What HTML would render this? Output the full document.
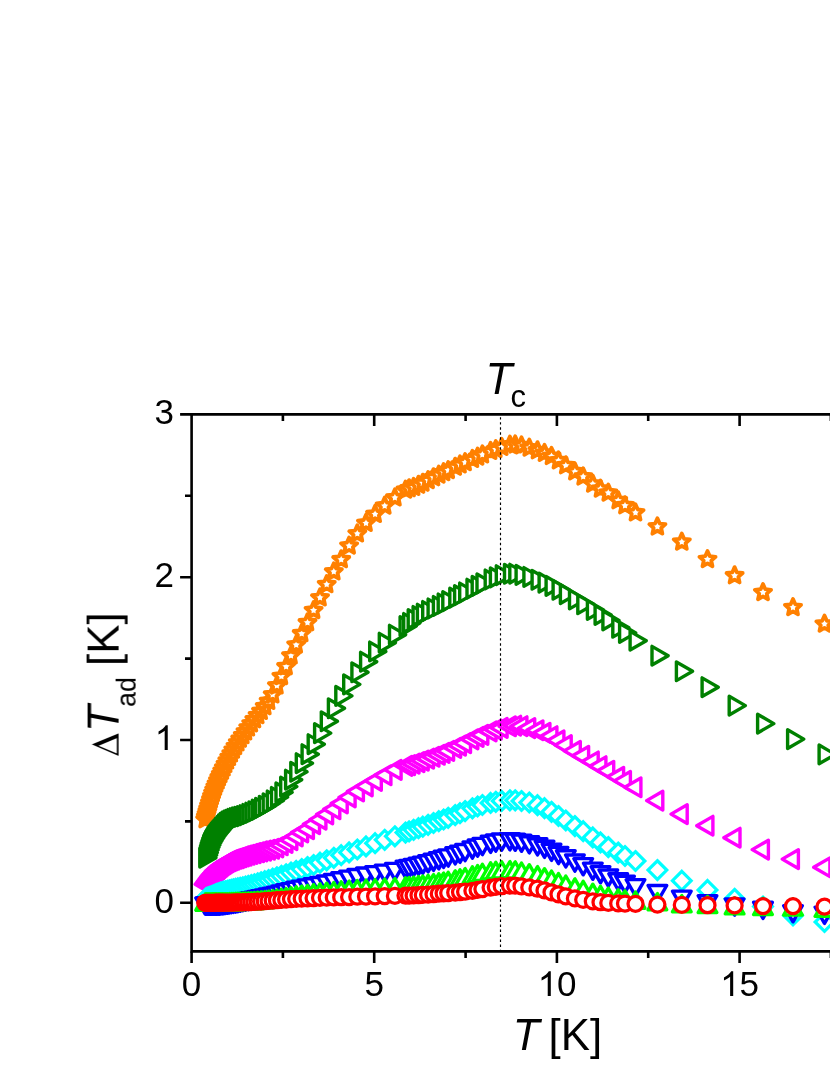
<!DOCTYPE html>
<html><head><meta charset="utf-8"><title>chart</title>
<style>html,body{margin:0;padding:0;background:#fff}body{width:830px;height:1075px;overflow:hidden}svg{display:block}</style>
</head><body>
<svg width="830" height="1075" viewBox="0 0 830 1075">
<rect width="830" height="1075" fill="#fff"/>
<defs>
<path id="m_orange" d="M0.00 -8.50L2.32 -3.20L8.08 -2.63L3.76 1.22L5.00 6.88L0.00 3.95L-5.00 6.88L-3.76 1.22L-8.08 -2.63L-2.32 -3.20Z" fill="#fff" stroke="#ff8000" stroke-width="3.8" stroke-linejoin="round"/>
<path id="m_dkgreen" d="M-5.40 -9.35L-5.40 9.35L10.80 0.00Z" fill="#fff" stroke="#008000" stroke-width="3.4" stroke-linejoin="round"/>
<path id="m_magenta" d="M5.40 -9.35L5.40 9.35L-10.80 0.00Z" fill="#fff" stroke="#ff00ff" stroke-width="3.4" stroke-linejoin="round"/>
<path id="m_cyan" d="M0.00 -9.35L9.35 0.00L0.00 9.35L-9.35 0.00Z" fill="#fff" stroke="#00ffff" stroke-width="3.2" stroke-linejoin="miter"/>
<path id="m_blue" d="M-9.35 -5.40L9.35 -5.40L0.00 10.80Z" fill="#fff" stroke="#0000ff" stroke-width="3.4" stroke-linejoin="round"/>
<path id="m_green" d="M-9.35 5.40L9.35 5.40L0.00 -10.80Z" fill="#fff" stroke="#00ff00" stroke-width="3.4" stroke-linejoin="round"/>
<circle id="m_red" r="7.5" fill="#fff" stroke="#ff0000" stroke-width="3.25"/>
<clipPath id="clip"><rect x="191.6" y="414.4" width="740" height="537.0"/></clipPath>
</defs>
<g>
<g>
<use href="#m_orange" x="205.2" y="819.6"/>
<use href="#m_orange" x="205.9" y="817.0"/>
<use href="#m_orange" x="206.6" y="814.4"/>
<use href="#m_orange" x="207.4" y="811.6"/>
<use href="#m_orange" x="208.2" y="808.8"/>
<use href="#m_orange" x="209.1" y="805.8"/>
<use href="#m_orange" x="210.0" y="802.8"/>
<use href="#m_orange" x="211.0" y="799.6"/>
<use href="#m_orange" x="212.0" y="796.4"/>
<use href="#m_orange" x="213.1" y="793.2"/>
<use href="#m_orange" x="214.2" y="790.1"/>
<use href="#m_orange" x="215.4" y="787.0"/>
<use href="#m_orange" x="216.6" y="783.9"/>
<use href="#m_orange" x="218.0" y="780.7"/>
<use href="#m_orange" x="219.3" y="777.6"/>
<use href="#m_orange" x="220.8" y="774.4"/>
<use href="#m_orange" x="222.3" y="771.1"/>
<use href="#m_orange" x="223.9" y="767.8"/>
<use href="#m_orange" x="225.6" y="764.3"/>
<use href="#m_orange" x="227.4" y="760.8"/>
<use href="#m_orange" x="229.3" y="757.3"/>
<use href="#m_orange" x="231.3" y="753.7"/>
<use href="#m_orange" x="233.3" y="750.0"/>
<use href="#m_orange" x="235.5" y="746.4"/>
<use href="#m_orange" x="237.8" y="742.7"/>
<use href="#m_orange" x="240.2" y="739.1"/>
<use href="#m_orange" x="242.8" y="735.5"/>
<use href="#m_orange" x="245.5" y="731.7"/>
<use href="#m_orange" x="248.3" y="727.8"/>
<use href="#m_orange" x="251.3" y="723.7"/>
<use href="#m_orange" x="254.4" y="719.6"/>
<use href="#m_orange" x="257.7" y="715.5"/>
<use href="#m_orange" x="261.1" y="711.3"/>
<use href="#m_orange" x="264.8" y="706.6"/>
<use href="#m_orange" x="268.6" y="701.3"/>
<use href="#m_orange" x="272.7" y="694.8"/>
<use href="#m_orange" x="276.9" y="685.8"/>
<use href="#m_orange" x="281.4" y="676.4"/>
<use href="#m_orange" x="286.1" y="666.6"/>
<use href="#m_orange" x="291.0" y="655.8"/>
<use href="#m_orange" x="296.2" y="644.9"/>
<use href="#m_orange" x="301.7" y="633.6"/>
<use href="#m_orange" x="307.5" y="622.6"/>
<use href="#m_orange" x="313.6" y="610.4"/>
<use href="#m_orange" x="320.0" y="597.8"/>
<use href="#m_orange" x="326.7" y="584.5"/>
<use href="#m_orange" x="333.8" y="571.8"/>
<use href="#m_orange" x="341.2" y="559.6"/>
<use href="#m_orange" x="349.1" y="545.9"/>
<use href="#m_orange" x="357.3" y="533.8"/>
<use href="#m_orange" x="366.0" y="523.2"/>
<use href="#m_orange" x="375.1" y="514.3"/>
<use href="#m_orange" x="384.7" y="505.9"/>
<use href="#m_orange" x="394.9" y="497.8"/>
<use href="#m_orange" x="405.5" y="489.9"/>
<use href="#m_orange" x="409.1" y="488.6"/>
<use href="#m_orange" x="413.6" y="487.2"/>
<use href="#m_orange" x="418.5" y="485.1"/>
<use href="#m_orange" x="422.8" y="483.1"/>
<use href="#m_orange" x="428.1" y="480.4"/>
<use href="#m_orange" x="433.5" y="477.6"/>
<use href="#m_orange" x="438.8" y="474.9"/>
<use href="#m_orange" x="443.6" y="472.5"/>
<use href="#m_orange" x="448.2" y="470.4"/>
<use href="#m_orange" x="455.2" y="467.1"/>
<use href="#m_orange" x="460.0" y="464.8"/>
<use href="#m_orange" x="465.1" y="462.5"/>
<use href="#m_orange" x="472.4" y="459.2"/>
<use href="#m_orange" x="477.6" y="456.9"/>
<use href="#m_orange" x="482.4" y="454.7"/>
<use href="#m_orange" x="490.6" y="451.3"/>
<use href="#m_orange" x="495.8" y="449.4"/>
<use href="#m_orange" x="501.7" y="447.2"/>
<use href="#m_orange" x="509.9" y="444.9"/>
<use href="#m_orange" x="515.2" y="444.8"/>
<use href="#m_orange" x="521.5" y="445.7"/>
<use href="#m_orange" x="529.3" y="447.9"/>
<use href="#m_orange" x="537.5" y="450.6"/>
<use href="#m_orange" x="544.5" y="453.2"/>
<use href="#m_orange" x="551.5" y="456.3"/>
<use href="#m_orange" x="558.5" y="460.7"/>
<use href="#m_orange" x="565.8" y="465.6"/>
<use href="#m_orange" x="574.9" y="471.7"/>
<use href="#m_orange" x="583.2" y="476.8"/>
<use href="#m_orange" x="592.8" y="484.0"/>
<use href="#m_orange" x="600.5" y="489.0"/>
<use href="#m_orange" x="608.3" y="492.9"/>
<use href="#m_orange" x="618.2" y="500.6"/>
<use href="#m_orange" x="625.0" y="505.6"/>
<use href="#m_orange" x="635.5" y="512.7"/>
<use href="#m_orange" x="657.4" y="526.8"/>
<use href="#m_orange" x="681.8" y="542.0"/>
<use href="#m_orange" x="707.5" y="559.4"/>
<use href="#m_orange" x="734.6" y="575.6"/>
<use href="#m_orange" x="763.0" y="592.4"/>
<use href="#m_orange" x="793.0" y="607.5"/>
<use href="#m_orange" x="824.5" y="624.0"/>
</g>
<g>
<use href="#m_dkgreen" x="205.2" y="857.7"/>
<use href="#m_dkgreen" x="205.9" y="855.1"/>
<use href="#m_dkgreen" x="206.6" y="852.5"/>
<use href="#m_dkgreen" x="207.4" y="849.9"/>
<use href="#m_dkgreen" x="208.2" y="847.4"/>
<use href="#m_dkgreen" x="209.1" y="845.0"/>
<use href="#m_dkgreen" x="210.0" y="842.9"/>
<use href="#m_dkgreen" x="211.0" y="841.0"/>
<use href="#m_dkgreen" x="212.0" y="839.2"/>
<use href="#m_dkgreen" x="213.1" y="837.5"/>
<use href="#m_dkgreen" x="214.2" y="835.8"/>
<use href="#m_dkgreen" x="215.4" y="834.3"/>
<use href="#m_dkgreen" x="216.6" y="832.7"/>
<use href="#m_dkgreen" x="218.0" y="831.2"/>
<use href="#m_dkgreen" x="219.3" y="829.6"/>
<use href="#m_dkgreen" x="220.8" y="827.9"/>
<use href="#m_dkgreen" x="222.3" y="826.1"/>
<use href="#m_dkgreen" x="223.9" y="824.4"/>
<use href="#m_dkgreen" x="225.6" y="822.9"/>
<use href="#m_dkgreen" x="227.4" y="821.6"/>
<use href="#m_dkgreen" x="229.3" y="820.6"/>
<use href="#m_dkgreen" x="231.3" y="819.8"/>
<use href="#m_dkgreen" x="233.3" y="819.0"/>
<use href="#m_dkgreen" x="235.5" y="818.2"/>
<use href="#m_dkgreen" x="237.8" y="817.5"/>
<use href="#m_dkgreen" x="240.2" y="816.8"/>
<use href="#m_dkgreen" x="242.8" y="816.1"/>
<use href="#m_dkgreen" x="245.5" y="815.2"/>
<use href="#m_dkgreen" x="248.3" y="814.0"/>
<use href="#m_dkgreen" x="251.3" y="812.7"/>
<use href="#m_dkgreen" x="254.4" y="811.3"/>
<use href="#m_dkgreen" x="257.7" y="809.6"/>
<use href="#m_dkgreen" x="261.1" y="807.8"/>
<use href="#m_dkgreen" x="264.8" y="805.8"/>
<use href="#m_dkgreen" x="268.6" y="803.4"/>
<use href="#m_dkgreen" x="272.7" y="800.5"/>
<use href="#m_dkgreen" x="276.9" y="797.0"/>
<use href="#m_dkgreen" x="281.4" y="792.4"/>
<use href="#m_dkgreen" x="286.1" y="786.6"/>
<use href="#m_dkgreen" x="291.0" y="779.7"/>
<use href="#m_dkgreen" x="296.2" y="771.8"/>
<use href="#m_dkgreen" x="301.7" y="763.2"/>
<use href="#m_dkgreen" x="307.5" y="754.2"/>
<use href="#m_dkgreen" x="313.6" y="744.2"/>
<use href="#m_dkgreen" x="320.0" y="733.1"/>
<use href="#m_dkgreen" x="326.7" y="721.3"/>
<use href="#m_dkgreen" x="333.8" y="708.3"/>
<use href="#m_dkgreen" x="341.2" y="695.9"/>
<use href="#m_dkgreen" x="349.1" y="684.4"/>
<use href="#m_dkgreen" x="357.3" y="672.3"/>
<use href="#m_dkgreen" x="366.0" y="661.7"/>
<use href="#m_dkgreen" x="375.1" y="651.5"/>
<use href="#m_dkgreen" x="384.7" y="642.7"/>
<use href="#m_dkgreen" x="394.9" y="634.7"/>
<use href="#m_dkgreen" x="405.5" y="626.1"/>
<use href="#m_dkgreen" x="409.1" y="623.0"/>
<use href="#m_dkgreen" x="413.6" y="619.1"/>
<use href="#m_dkgreen" x="418.5" y="616.0"/>
<use href="#m_dkgreen" x="422.8" y="613.7"/>
<use href="#m_dkgreen" x="428.1" y="611.0"/>
<use href="#m_dkgreen" x="433.5" y="608.5"/>
<use href="#m_dkgreen" x="438.8" y="606.0"/>
<use href="#m_dkgreen" x="443.6" y="603.5"/>
<use href="#m_dkgreen" x="448.2" y="601.1"/>
<use href="#m_dkgreen" x="455.2" y="597.6"/>
<use href="#m_dkgreen" x="460.0" y="595.1"/>
<use href="#m_dkgreen" x="465.1" y="592.5"/>
<use href="#m_dkgreen" x="472.4" y="588.7"/>
<use href="#m_dkgreen" x="477.6" y="585.9"/>
<use href="#m_dkgreen" x="482.4" y="583.4"/>
<use href="#m_dkgreen" x="490.6" y="579.5"/>
<use href="#m_dkgreen" x="495.8" y="577.4"/>
<use href="#m_dkgreen" x="501.7" y="575.2"/>
<use href="#m_dkgreen" x="509.9" y="573.8"/>
<use href="#m_dkgreen" x="515.2" y="573.7"/>
<use href="#m_dkgreen" x="521.5" y="574.9"/>
<use href="#m_dkgreen" x="529.3" y="577.0"/>
<use href="#m_dkgreen" x="537.5" y="579.8"/>
<use href="#m_dkgreen" x="544.5" y="582.6"/>
<use href="#m_dkgreen" x="551.5" y="585.9"/>
<use href="#m_dkgreen" x="558.5" y="589.8"/>
<use href="#m_dkgreen" x="565.8" y="594.1"/>
<use href="#m_dkgreen" x="574.9" y="599.5"/>
<use href="#m_dkgreen" x="583.2" y="604.3"/>
<use href="#m_dkgreen" x="592.8" y="610.0"/>
<use href="#m_dkgreen" x="600.5" y="615.0"/>
<use href="#m_dkgreen" x="608.3" y="620.4"/>
<use href="#m_dkgreen" x="618.2" y="627.8"/>
<use href="#m_dkgreen" x="625.0" y="632.9"/>
<use href="#m_dkgreen" x="635.5" y="640.7"/>
<use href="#m_dkgreen" x="657.4" y="655.7"/>
<use href="#m_dkgreen" x="681.8" y="671.3"/>
<use href="#m_dkgreen" x="707.5" y="687.2"/>
<use href="#m_dkgreen" x="734.6" y="705.6"/>
<use href="#m_dkgreen" x="763.0" y="723.6"/>
<use href="#m_dkgreen" x="793.0" y="739.1"/>
<use href="#m_dkgreen" x="824.5" y="754.4"/>
</g>
<g>
<use href="#m_magenta" x="205.9" y="884.4"/>
<use href="#m_magenta" x="206.7" y="883.4"/>
<use href="#m_magenta" x="207.5" y="882.3"/>
<use href="#m_magenta" x="208.3" y="881.2"/>
<use href="#m_magenta" x="209.2" y="879.9"/>
<use href="#m_magenta" x="210.1" y="878.6"/>
<use href="#m_magenta" x="211.1" y="877.3"/>
<use href="#m_magenta" x="212.1" y="876.0"/>
<use href="#m_magenta" x="213.2" y="874.7"/>
<use href="#m_magenta" x="214.3" y="873.4"/>
<use href="#m_magenta" x="215.5" y="872.0"/>
<use href="#m_magenta" x="216.7" y="870.7"/>
<use href="#m_magenta" x="218.1" y="869.4"/>
<use href="#m_magenta" x="219.4" y="868.1"/>
<use href="#m_magenta" x="220.9" y="866.9"/>
<use href="#m_magenta" x="222.4" y="865.7"/>
<use href="#m_magenta" x="224.1" y="864.5"/>
<use href="#m_magenta" x="225.8" y="863.4"/>
<use href="#m_magenta" x="227.5" y="862.3"/>
<use href="#m_magenta" x="229.4" y="861.3"/>
<use href="#m_magenta" x="231.4" y="860.4"/>
<use href="#m_magenta" x="233.5" y="859.6"/>
<use href="#m_magenta" x="235.7" y="858.8"/>
<use href="#m_magenta" x="238.0" y="858.1"/>
<use href="#m_magenta" x="240.4" y="857.3"/>
<use href="#m_magenta" x="243.0" y="856.4"/>
<use href="#m_magenta" x="245.7" y="855.6"/>
<use href="#m_magenta" x="248.5" y="854.8"/>
<use href="#m_magenta" x="251.5" y="854.0"/>
<use href="#m_magenta" x="254.7" y="853.1"/>
<use href="#m_magenta" x="258.0" y="852.3"/>
<use href="#m_magenta" x="261.4" y="851.4"/>
<use href="#m_magenta" x="265.1" y="850.6"/>
<use href="#m_magenta" x="268.9" y="849.8"/>
<use href="#m_magenta" x="273.0" y="848.8"/>
<use href="#m_magenta" x="277.3" y="847.4"/>
<use href="#m_magenta" x="281.7" y="845.3"/>
<use href="#m_magenta" x="286.5" y="842.9"/>
<use href="#m_magenta" x="291.4" y="840.1"/>
<use href="#m_magenta" x="296.7" y="836.4"/>
<use href="#m_magenta" x="302.2" y="832.5"/>
<use href="#m_magenta" x="308.0" y="829.1"/>
<use href="#m_magenta" x="314.1" y="824.2"/>
<use href="#m_magenta" x="320.5" y="819.6"/>
<use href="#m_magenta" x="327.2" y="814.5"/>
<use href="#m_magenta" x="334.4" y="809.3"/>
<use href="#m_magenta" x="341.8" y="803.5"/>
<use href="#m_magenta" x="349.7" y="797.4"/>
<use href="#m_magenta" x="358.0" y="791.5"/>
<use href="#m_magenta" x="366.7" y="786.4"/>
<use href="#m_magenta" x="375.9" y="780.9"/>
<use href="#m_magenta" x="385.5" y="775.3"/>
<use href="#m_magenta" x="395.7" y="769.9"/>
<use href="#m_magenta" x="406.4" y="765.9"/>
<use href="#m_magenta" x="409.1" y="765.2"/>
<use href="#m_magenta" x="413.6" y="763.7"/>
<use href="#m_magenta" x="418.5" y="762.1"/>
<use href="#m_magenta" x="422.8" y="760.6"/>
<use href="#m_magenta" x="428.1" y="758.7"/>
<use href="#m_magenta" x="433.5" y="756.8"/>
<use href="#m_magenta" x="438.8" y="754.8"/>
<use href="#m_magenta" x="443.6" y="752.9"/>
<use href="#m_magenta" x="448.2" y="751.0"/>
<use href="#m_magenta" x="455.2" y="747.9"/>
<use href="#m_magenta" x="460.0" y="745.6"/>
<use href="#m_magenta" x="465.1" y="743.1"/>
<use href="#m_magenta" x="472.4" y="739.4"/>
<use href="#m_magenta" x="477.6" y="737.0"/>
<use href="#m_magenta" x="482.4" y="734.9"/>
<use href="#m_magenta" x="490.6" y="731.5"/>
<use href="#m_magenta" x="495.8" y="729.6"/>
<use href="#m_magenta" x="501.7" y="727.9"/>
<use href="#m_magenta" x="509.9" y="726.3"/>
<use href="#m_magenta" x="515.2" y="725.7"/>
<use href="#m_magenta" x="521.5" y="726.2"/>
<use href="#m_magenta" x="529.3" y="728.1"/>
<use href="#m_magenta" x="537.5" y="730.3"/>
<use href="#m_magenta" x="544.5" y="732.8"/>
<use href="#m_magenta" x="551.5" y="736.2"/>
<use href="#m_magenta" x="558.5" y="740.4"/>
<use href="#m_magenta" x="565.8" y="745.1"/>
<use href="#m_magenta" x="574.9" y="750.9"/>
<use href="#m_magenta" x="583.2" y="755.8"/>
<use href="#m_magenta" x="592.8" y="761.5"/>
<use href="#m_magenta" x="600.5" y="766.2"/>
<use href="#m_magenta" x="608.3" y="770.8"/>
<use href="#m_magenta" x="618.2" y="776.8"/>
<use href="#m_magenta" x="625.0" y="780.9"/>
<use href="#m_magenta" x="635.5" y="787.3"/>
<use href="#m_magenta" x="657.4" y="800.6"/>
<use href="#m_magenta" x="681.8" y="814.1"/>
<use href="#m_magenta" x="707.5" y="825.7"/>
<use href="#m_magenta" x="734.6" y="837.7"/>
<use href="#m_magenta" x="763.0" y="849.6"/>
<use href="#m_magenta" x="793.0" y="859.1"/>
<use href="#m_magenta" x="824.5" y="867.3"/>
</g>
<g>
<use href="#m_cyan" x="205.9" y="898.4"/>
<use href="#m_cyan" x="206.6" y="898.1"/>
<use href="#m_cyan" x="207.4" y="897.8"/>
<use href="#m_cyan" x="208.2" y="897.5"/>
<use href="#m_cyan" x="209.1" y="897.2"/>
<use href="#m_cyan" x="210.0" y="896.9"/>
<use href="#m_cyan" x="211.0" y="896.6"/>
<use href="#m_cyan" x="212.0" y="896.2"/>
<use href="#m_cyan" x="213.1" y="895.7"/>
<use href="#m_cyan" x="214.2" y="895.2"/>
<use href="#m_cyan" x="215.4" y="894.7"/>
<use href="#m_cyan" x="216.6" y="894.1"/>
<use href="#m_cyan" x="218.0" y="893.6"/>
<use href="#m_cyan" x="219.3" y="893.1"/>
<use href="#m_cyan" x="220.8" y="892.6"/>
<use href="#m_cyan" x="222.3" y="892.2"/>
<use href="#m_cyan" x="223.9" y="891.7"/>
<use href="#m_cyan" x="225.6" y="891.3"/>
<use href="#m_cyan" x="227.4" y="890.8"/>
<use href="#m_cyan" x="229.3" y="890.3"/>
<use href="#m_cyan" x="231.3" y="889.8"/>
<use href="#m_cyan" x="233.3" y="889.3"/>
<use href="#m_cyan" x="235.5" y="888.8"/>
<use href="#m_cyan" x="237.8" y="888.3"/>
<use href="#m_cyan" x="240.2" y="887.8"/>
<use href="#m_cyan" x="242.8" y="887.3"/>
<use href="#m_cyan" x="245.5" y="886.6"/>
<use href="#m_cyan" x="248.3" y="885.9"/>
<use href="#m_cyan" x="251.3" y="885.1"/>
<use href="#m_cyan" x="254.4" y="884.3"/>
<use href="#m_cyan" x="257.7" y="883.3"/>
<use href="#m_cyan" x="261.1" y="882.3"/>
<use href="#m_cyan" x="264.8" y="881.2"/>
<use href="#m_cyan" x="268.6" y="880.0"/>
<use href="#m_cyan" x="272.7" y="878.7"/>
<use href="#m_cyan" x="276.9" y="877.3"/>
<use href="#m_cyan" x="281.4" y="875.8"/>
<use href="#m_cyan" x="286.1" y="874.3"/>
<use href="#m_cyan" x="291.0" y="872.6"/>
<use href="#m_cyan" x="296.2" y="870.9"/>
<use href="#m_cyan" x="301.7" y="869.1"/>
<use href="#m_cyan" x="307.5" y="867.1"/>
<use href="#m_cyan" x="313.6" y="865.0"/>
<use href="#m_cyan" x="320.0" y="862.7"/>
<use href="#m_cyan" x="326.7" y="860.3"/>
<use href="#m_cyan" x="333.8" y="857.8"/>
<use href="#m_cyan" x="341.2" y="855.2"/>
<use href="#m_cyan" x="349.1" y="852.4"/>
<use href="#m_cyan" x="357.3" y="849.5"/>
<use href="#m_cyan" x="366.0" y="846.4"/>
<use href="#m_cyan" x="375.1" y="843.2"/>
<use href="#m_cyan" x="384.7" y="839.8"/>
<use href="#m_cyan" x="394.9" y="836.3"/>
<use href="#m_cyan" x="405.5" y="832.6"/>
<use href="#m_cyan" x="409.1" y="831.4"/>
<use href="#m_cyan" x="413.6" y="829.8"/>
<use href="#m_cyan" x="418.5" y="828.2"/>
<use href="#m_cyan" x="422.8" y="826.7"/>
<use href="#m_cyan" x="428.1" y="824.8"/>
<use href="#m_cyan" x="433.5" y="823.0"/>
<use href="#m_cyan" x="438.8" y="821.2"/>
<use href="#m_cyan" x="443.6" y="819.5"/>
<use href="#m_cyan" x="448.2" y="817.8"/>
<use href="#m_cyan" x="455.2" y="815.1"/>
<use href="#m_cyan" x="460.0" y="813.2"/>
<use href="#m_cyan" x="465.1" y="811.1"/>
<use href="#m_cyan" x="472.4" y="808.3"/>
<use href="#m_cyan" x="477.6" y="806.5"/>
<use href="#m_cyan" x="482.4" y="805.0"/>
<use href="#m_cyan" x="490.6" y="802.9"/>
<use href="#m_cyan" x="495.8" y="801.8"/>
<use href="#m_cyan" x="501.7" y="800.9"/>
<use href="#m_cyan" x="509.9" y="800.3"/>
<use href="#m_cyan" x="515.2" y="800.3"/>
<use href="#m_cyan" x="521.5" y="801.0"/>
<use href="#m_cyan" x="529.3" y="802.5"/>
<use href="#m_cyan" x="537.5" y="805.2"/>
<use href="#m_cyan" x="544.5" y="808.2"/>
<use href="#m_cyan" x="551.5" y="811.8"/>
<use href="#m_cyan" x="558.5" y="816.0"/>
<use href="#m_cyan" x="565.8" y="820.5"/>
<use href="#m_cyan" x="574.9" y="826.1"/>
<use href="#m_cyan" x="583.2" y="831.2"/>
<use href="#m_cyan" x="592.8" y="837.4"/>
<use href="#m_cyan" x="600.5" y="842.4"/>
<use href="#m_cyan" x="608.3" y="847.1"/>
<use href="#m_cyan" x="618.2" y="852.6"/>
<use href="#m_cyan" x="625.0" y="856.0"/>
<use href="#m_cyan" x="635.5" y="861.0"/>
<use href="#m_cyan" x="657.4" y="870.1"/>
<use href="#m_cyan" x="681.8" y="880.7"/>
<use href="#m_cyan" x="707.5" y="889.9"/>
<use href="#m_cyan" x="734.6" y="898.8"/>
<use href="#m_cyan" x="763.0" y="906.6"/>
<use href="#m_cyan" x="793.0" y="915.4"/>
<use href="#m_cyan" x="824.5" y="922.0"/>
</g>
<g>
<use href="#m_blue" x="205.2" y="903.3"/>
<use href="#m_blue" x="205.9" y="903.3"/>
<use href="#m_blue" x="206.6" y="903.3"/>
<use href="#m_blue" x="207.4" y="903.3"/>
<use href="#m_blue" x="208.2" y="903.3"/>
<use href="#m_blue" x="209.1" y="903.4"/>
<use href="#m_blue" x="210.0" y="903.4"/>
<use href="#m_blue" x="211.0" y="903.4"/>
<use href="#m_blue" x="212.0" y="903.4"/>
<use href="#m_blue" x="213.1" y="903.4"/>
<use href="#m_blue" x="214.2" y="903.4"/>
<use href="#m_blue" x="215.4" y="903.4"/>
<use href="#m_blue" x="216.6" y="903.4"/>
<use href="#m_blue" x="218.0" y="903.4"/>
<use href="#m_blue" x="219.3" y="903.4"/>
<use href="#m_blue" x="220.8" y="903.2"/>
<use href="#m_blue" x="222.3" y="903.1"/>
<use href="#m_blue" x="223.9" y="902.9"/>
<use href="#m_blue" x="225.6" y="902.7"/>
<use href="#m_blue" x="227.4" y="902.5"/>
<use href="#m_blue" x="229.3" y="902.2"/>
<use href="#m_blue" x="231.3" y="901.9"/>
<use href="#m_blue" x="233.3" y="901.6"/>
<use href="#m_blue" x="235.5" y="901.3"/>
<use href="#m_blue" x="237.8" y="900.9"/>
<use href="#m_blue" x="240.2" y="900.5"/>
<use href="#m_blue" x="242.8" y="899.9"/>
<use href="#m_blue" x="245.5" y="899.4"/>
<use href="#m_blue" x="248.3" y="898.8"/>
<use href="#m_blue" x="251.3" y="898.2"/>
<use href="#m_blue" x="254.4" y="897.5"/>
<use href="#m_blue" x="257.7" y="896.9"/>
<use href="#m_blue" x="261.1" y="896.1"/>
<use href="#m_blue" x="264.8" y="895.3"/>
<use href="#m_blue" x="268.6" y="894.4"/>
<use href="#m_blue" x="272.7" y="893.5"/>
<use href="#m_blue" x="276.9" y="892.5"/>
<use href="#m_blue" x="281.4" y="891.4"/>
<use href="#m_blue" x="286.1" y="890.2"/>
<use href="#m_blue" x="291.0" y="889.0"/>
<use href="#m_blue" x="296.2" y="887.7"/>
<use href="#m_blue" x="301.7" y="886.5"/>
<use href="#m_blue" x="307.5" y="885.3"/>
<use href="#m_blue" x="313.6" y="884.2"/>
<use href="#m_blue" x="320.0" y="882.9"/>
<use href="#m_blue" x="326.7" y="881.4"/>
<use href="#m_blue" x="333.8" y="879.9"/>
<use href="#m_blue" x="341.2" y="878.2"/>
<use href="#m_blue" x="349.1" y="876.5"/>
<use href="#m_blue" x="357.3" y="874.9"/>
<use href="#m_blue" x="366.0" y="873.4"/>
<use href="#m_blue" x="375.1" y="872.0"/>
<use href="#m_blue" x="384.7" y="870.5"/>
<use href="#m_blue" x="394.9" y="868.8"/>
<use href="#m_blue" x="405.5" y="866.7"/>
<use href="#m_blue" x="409.1" y="865.9"/>
<use href="#m_blue" x="413.6" y="864.9"/>
<use href="#m_blue" x="418.5" y="863.7"/>
<use href="#m_blue" x="422.8" y="862.5"/>
<use href="#m_blue" x="428.1" y="861.1"/>
<use href="#m_blue" x="433.5" y="859.6"/>
<use href="#m_blue" x="438.8" y="858.1"/>
<use href="#m_blue" x="443.6" y="856.7"/>
<use href="#m_blue" x="448.2" y="855.3"/>
<use href="#m_blue" x="455.2" y="853.2"/>
<use href="#m_blue" x="460.0" y="851.6"/>
<use href="#m_blue" x="465.1" y="849.9"/>
<use href="#m_blue" x="472.4" y="847.4"/>
<use href="#m_blue" x="477.6" y="845.4"/>
<use href="#m_blue" x="482.4" y="843.8"/>
<use href="#m_blue" x="490.6" y="841.6"/>
<use href="#m_blue" x="495.8" y="840.4"/>
<use href="#m_blue" x="501.7" y="839.4"/>
<use href="#m_blue" x="509.9" y="839.1"/>
<use href="#m_blue" x="515.2" y="839.5"/>
<use href="#m_blue" x="521.5" y="840.5"/>
<use href="#m_blue" x="529.3" y="842.1"/>
<use href="#m_blue" x="537.5" y="844.2"/>
<use href="#m_blue" x="544.5" y="846.6"/>
<use href="#m_blue" x="551.5" y="849.6"/>
<use href="#m_blue" x="558.5" y="852.8"/>
<use href="#m_blue" x="565.8" y="856.2"/>
<use href="#m_blue" x="574.9" y="860.4"/>
<use href="#m_blue" x="583.2" y="864.0"/>
<use href="#m_blue" x="592.8" y="868.5"/>
<use href="#m_blue" x="600.5" y="872.0"/>
<use href="#m_blue" x="608.3" y="875.4"/>
<use href="#m_blue" x="618.2" y="879.2"/>
<use href="#m_blue" x="625.0" y="881.6"/>
<use href="#m_blue" x="635.5" y="885.0"/>
<use href="#m_blue" x="657.4" y="890.9"/>
<use href="#m_blue" x="681.8" y="896.5"/>
<use href="#m_blue" x="707.5" y="901.1"/>
<use href="#m_blue" x="734.6" y="904.3"/>
<use href="#m_blue" x="763.0" y="907.7"/>
<use href="#m_blue" x="793.0" y="911.0"/>
<use href="#m_blue" x="824.5" y="912.6"/>
</g>
<g>
<use href="#m_green" x="205.2" y="904.8"/>
<use href="#m_green" x="205.9" y="904.8"/>
<use href="#m_green" x="206.6" y="904.8"/>
<use href="#m_green" x="207.4" y="904.8"/>
<use href="#m_green" x="208.2" y="904.8"/>
<use href="#m_green" x="209.1" y="904.8"/>
<use href="#m_green" x="210.0" y="904.8"/>
<use href="#m_green" x="211.0" y="904.8"/>
<use href="#m_green" x="212.0" y="904.7"/>
<use href="#m_green" x="213.1" y="904.7"/>
<use href="#m_green" x="214.2" y="904.7"/>
<use href="#m_green" x="215.4" y="904.7"/>
<use href="#m_green" x="216.6" y="904.7"/>
<use href="#m_green" x="218.0" y="904.7"/>
<use href="#m_green" x="219.3" y="904.7"/>
<use href="#m_green" x="220.8" y="904.6"/>
<use href="#m_green" x="222.3" y="904.6"/>
<use href="#m_green" x="223.9" y="904.6"/>
<use href="#m_green" x="225.6" y="904.5"/>
<use href="#m_green" x="227.4" y="904.5"/>
<use href="#m_green" x="229.3" y="904.4"/>
<use href="#m_green" x="231.3" y="904.4"/>
<use href="#m_green" x="233.3" y="904.3"/>
<use href="#m_green" x="235.5" y="904.2"/>
<use href="#m_green" x="237.8" y="904.1"/>
<use href="#m_green" x="240.2" y="904.0"/>
<use href="#m_green" x="242.8" y="903.9"/>
<use href="#m_green" x="245.5" y="903.8"/>
<use href="#m_green" x="248.3" y="903.7"/>
<use href="#m_green" x="251.3" y="903.5"/>
<use href="#m_green" x="254.4" y="903.3"/>
<use href="#m_green" x="257.7" y="903.0"/>
<use href="#m_green" x="261.1" y="902.7"/>
<use href="#m_green" x="264.8" y="902.3"/>
<use href="#m_green" x="268.6" y="901.9"/>
<use href="#m_green" x="272.7" y="901.4"/>
<use href="#m_green" x="276.9" y="900.9"/>
<use href="#m_green" x="281.4" y="900.2"/>
<use href="#m_green" x="286.1" y="899.4"/>
<use href="#m_green" x="291.0" y="898.5"/>
<use href="#m_green" x="296.2" y="897.6"/>
<use href="#m_green" x="301.7" y="896.9"/>
<use href="#m_green" x="307.5" y="896.2"/>
<use href="#m_green" x="313.6" y="895.4"/>
<use href="#m_green" x="320.0" y="894.7"/>
<use href="#m_green" x="326.7" y="894.0"/>
<use href="#m_green" x="333.8" y="893.3"/>
<use href="#m_green" x="341.2" y="892.6"/>
<use href="#m_green" x="349.1" y="891.9"/>
<use href="#m_green" x="357.3" y="891.3"/>
<use href="#m_green" x="366.0" y="890.8"/>
<use href="#m_green" x="375.1" y="890.3"/>
<use href="#m_green" x="384.7" y="889.9"/>
<use href="#m_green" x="394.9" y="889.4"/>
<use href="#m_green" x="405.5" y="888.6"/>
<use href="#m_green" x="409.1" y="888.3"/>
<use href="#m_green" x="413.6" y="887.9"/>
<use href="#m_green" x="418.5" y="887.3"/>
<use href="#m_green" x="422.8" y="886.8"/>
<use href="#m_green" x="428.1" y="886.1"/>
<use href="#m_green" x="433.5" y="885.4"/>
<use href="#m_green" x="438.8" y="884.6"/>
<use href="#m_green" x="443.6" y="883.9"/>
<use href="#m_green" x="448.2" y="883.1"/>
<use href="#m_green" x="455.2" y="881.7"/>
<use href="#m_green" x="460.0" y="880.6"/>
<use href="#m_green" x="465.1" y="879.4"/>
<use href="#m_green" x="472.4" y="877.6"/>
<use href="#m_green" x="477.6" y="876.3"/>
<use href="#m_green" x="482.4" y="875.1"/>
<use href="#m_green" x="490.6" y="873.6"/>
<use href="#m_green" x="495.8" y="873.1"/>
<use href="#m_green" x="501.7" y="872.6"/>
<use href="#m_green" x="509.9" y="872.4"/>
<use href="#m_green" x="515.2" y="872.7"/>
<use href="#m_green" x="521.5" y="873.8"/>
<use href="#m_green" x="529.3" y="875.5"/>
<use href="#m_green" x="537.5" y="877.4"/>
<use href="#m_green" x="544.5" y="879.5"/>
<use href="#m_green" x="551.5" y="881.8"/>
<use href="#m_green" x="558.5" y="884.3"/>
<use href="#m_green" x="565.8" y="886.8"/>
<use href="#m_green" x="574.9" y="889.7"/>
<use href="#m_green" x="583.2" y="892.1"/>
<use href="#m_green" x="592.8" y="895.0"/>
<use href="#m_green" x="600.5" y="897.1"/>
<use href="#m_green" x="608.3" y="898.9"/>
<use href="#m_green" x="618.2" y="900.6"/>
<use href="#m_green" x="625.0" y="901.6"/>
<use href="#m_green" x="635.5" y="902.8"/>
<use href="#m_green" x="657.4" y="904.4"/>
<use href="#m_green" x="681.8" y="906.4"/>
<use href="#m_green" x="707.5" y="907.2"/>
<use href="#m_green" x="734.6" y="908.5"/>
<use href="#m_green" x="763.0" y="909.2"/>
<use href="#m_green" x="793.0" y="909.6"/>
<use href="#m_green" x="824.5" y="910.9"/>
</g>
<g>
<use href="#m_red" x="205.2" y="902.8"/>
<use href="#m_red" x="205.9" y="902.8"/>
<use href="#m_red" x="206.6" y="902.8"/>
<use href="#m_red" x="207.4" y="902.8"/>
<use href="#m_red" x="208.2" y="902.8"/>
<use href="#m_red" x="209.1" y="902.8"/>
<use href="#m_red" x="210.0" y="902.8"/>
<use href="#m_red" x="211.0" y="902.8"/>
<use href="#m_red" x="212.0" y="902.8"/>
<use href="#m_red" x="213.1" y="902.8"/>
<use href="#m_red" x="214.2" y="902.8"/>
<use href="#m_red" x="215.4" y="902.7"/>
<use href="#m_red" x="216.6" y="902.7"/>
<use href="#m_red" x="218.0" y="902.7"/>
<use href="#m_red" x="219.3" y="902.7"/>
<use href="#m_red" x="220.8" y="902.7"/>
<use href="#m_red" x="222.3" y="902.7"/>
<use href="#m_red" x="223.9" y="902.6"/>
<use href="#m_red" x="225.6" y="902.6"/>
<use href="#m_red" x="227.4" y="902.6"/>
<use href="#m_red" x="229.3" y="902.6"/>
<use href="#m_red" x="231.3" y="902.5"/>
<use href="#m_red" x="233.3" y="902.5"/>
<use href="#m_red" x="235.5" y="902.4"/>
<use href="#m_red" x="237.8" y="902.4"/>
<use href="#m_red" x="240.2" y="902.3"/>
<use href="#m_red" x="242.8" y="902.3"/>
<use href="#m_red" x="245.5" y="902.2"/>
<use href="#m_red" x="248.3" y="902.1"/>
<use href="#m_red" x="251.3" y="902.0"/>
<use href="#m_red" x="254.4" y="901.9"/>
<use href="#m_red" x="257.7" y="901.7"/>
<use href="#m_red" x="261.1" y="901.5"/>
<use href="#m_red" x="264.8" y="901.2"/>
<use href="#m_red" x="268.6" y="900.9"/>
<use href="#m_red" x="272.7" y="900.6"/>
<use href="#m_red" x="276.9" y="900.2"/>
<use href="#m_red" x="281.4" y="899.9"/>
<use href="#m_red" x="286.1" y="899.5"/>
<use href="#m_red" x="291.0" y="899.1"/>
<use href="#m_red" x="296.2" y="898.8"/>
<use href="#m_red" x="301.7" y="898.5"/>
<use href="#m_red" x="307.5" y="898.3"/>
<use href="#m_red" x="313.6" y="898.0"/>
<use href="#m_red" x="320.0" y="897.8"/>
<use href="#m_red" x="326.7" y="897.6"/>
<use href="#m_red" x="333.8" y="897.4"/>
<use href="#m_red" x="341.2" y="897.2"/>
<use href="#m_red" x="349.1" y="897.0"/>
<use href="#m_red" x="357.3" y="896.7"/>
<use href="#m_red" x="366.0" y="896.5"/>
<use href="#m_red" x="375.1" y="896.3"/>
<use href="#m_red" x="384.7" y="896.1"/>
<use href="#m_red" x="394.9" y="895.9"/>
<use href="#m_red" x="405.5" y="895.6"/>
<use href="#m_red" x="409.1" y="895.5"/>
<use href="#m_red" x="413.6" y="895.4"/>
<use href="#m_red" x="418.5" y="895.2"/>
<use href="#m_red" x="422.8" y="894.9"/>
<use href="#m_red" x="428.1" y="894.6"/>
<use href="#m_red" x="433.5" y="894.2"/>
<use href="#m_red" x="438.8" y="893.7"/>
<use href="#m_red" x="443.6" y="893.3"/>
<use href="#m_red" x="448.2" y="893.0"/>
<use href="#m_red" x="455.2" y="892.5"/>
<use href="#m_red" x="460.0" y="892.1"/>
<use href="#m_red" x="465.1" y="891.7"/>
<use href="#m_red" x="472.4" y="890.8"/>
<use href="#m_red" x="477.6" y="889.9"/>
<use href="#m_red" x="482.4" y="889.0"/>
<use href="#m_red" x="490.6" y="887.6"/>
<use href="#m_red" x="495.8" y="886.9"/>
<use href="#m_red" x="501.7" y="886.2"/>
<use href="#m_red" x="509.9" y="885.6"/>
<use href="#m_red" x="515.2" y="885.7"/>
<use href="#m_red" x="521.5" y="886.3"/>
<use href="#m_red" x="529.3" y="887.4"/>
<use href="#m_red" x="537.5" y="888.7"/>
<use href="#m_red" x="544.5" y="890.4"/>
<use href="#m_red" x="551.5" y="892.3"/>
<use href="#m_red" x="558.5" y="894.3"/>
<use href="#m_red" x="565.8" y="896.3"/>
<use href="#m_red" x="574.9" y="898.4"/>
<use href="#m_red" x="583.2" y="899.8"/>
<use href="#m_red" x="592.8" y="901.3"/>
<use href="#m_red" x="600.5" y="902.2"/>
<use href="#m_red" x="608.3" y="902.9"/>
<use href="#m_red" x="618.2" y="903.4"/>
<use href="#m_red" x="625.0" y="903.5"/>
<use href="#m_red" x="635.5" y="903.8"/>
<use href="#m_red" x="657.4" y="904.6"/>
<use href="#m_red" x="681.8" y="904.9"/>
<use href="#m_red" x="707.5" y="905.2"/>
<use href="#m_red" x="734.6" y="905.4"/>
<use href="#m_red" x="763.0" y="906.1"/>
<use href="#m_red" x="793.0" y="906.1"/>
<use href="#m_red" x="824.5" y="906.7"/>
</g>
</g>
<g stroke="#000" stroke-width="2.6" fill="none" stroke-linecap="butt">
<path d="M190.3 414.4 H840 M190.3 951.4 H840 M191.6 414.4 V951.4"/>
<path d="M191.6 951.4 v11.5 M374.2 951.4 v11.5 M374.2 414.4 v11.5 M556.9 951.4 v11.5 M556.9 414.4 v11.5 M739.6 951.4 v11.5 M739.6 414.4 v11.5 M922.2 951.4 v11.5 M922.2 414.4 v11.5 M282.9 951.4 v6.6 M282.9 414.4 v6.6 M465.6 951.4 v6.6 M465.6 414.4 v6.6 M648.2 951.4 v6.6 M648.2 414.4 v6.6 M830.9 951.4 v6.6 M830.9 414.4 v6.6 M191.6 902.8 h-11.5 M191.6 740.0 h-11.5 M191.6 577.2 h-11.5 M191.6 414.4 h-11.5 M191.6 821.4 h-6.6 M191.6 658.6 h-6.6 M191.6 495.8 h-6.6 "/>
</g>
<path d="M500.5 417.2 V951.4" stroke="#000" stroke-width="1.15" stroke-dasharray="2.4 2.623" fill="none"/>
<g opacity="0.999"><g font-family="Liberation Sans, sans-serif" font-size="35" fill="#000">
<text x="191.6" y="996.3" text-anchor="middle">0</text>
<text x="374.2" y="996.3" text-anchor="middle">5</text>
<path transform="translate(537.76 996.00) scale(0.01709 -0.01678)" d="M763 0H583V1147Q518 1085 412.5 1023Q307 961 223 930V1104Q374 1175 487 1276Q600 1377 647 1472H763Z"/>
<text x="556.9" y="996.3">0</text>
<path transform="translate(720.16 996.00) scale(0.01709 -0.01678)" d="M763 0H583V1147Q518 1085 412.5 1023Q307 961 223 930V1104Q374 1175 487 1276Q600 1377 647 1472H763Z"/>
<text x="739.6" y="996.3">5</text>
<text x="174" y="912.8" text-anchor="end">0</text>
<text x="174" y="587.2" text-anchor="end">2</text>
<text x="174" y="424.4" text-anchor="end">3</text>
<path transform="translate(154.71 750.00) scale(0.01709 -0.01678)" d="M763 0H583V1147Q518 1085 412.5 1023Q307 961 223 930V1104Q374 1175 487 1276Q600 1377 647 1472H763Z"/>
</g>
<g font-family="Liberation Sans, sans-serif" font-size="43.8" fill="#000">
<text x="512.7" y="1050.4" font-style="italic">T</text>
<text x="548.5" y="1050.4">[K]</text>
<text x="485.6" y="393.7" font-style="italic">T</text>
<text x="510.4" y="406.6" font-size="31">c</text>
<g transform="translate(118.6 760) rotate(-90)">
<path d="M4.1 0 H26.6 L15.6 -26.7 Z M6.55 -1.7 H21.87 L14.21 -19.9 Z" fill-rule="evenodd"/>
<text x="28" y="0" font-style="italic">T</text>
<text x="53" y="17.3" font-size="26.8">ad</text>
<text x="94" y="0">[K]</text>
</g>
</g></g>
</svg>
</body></html>
